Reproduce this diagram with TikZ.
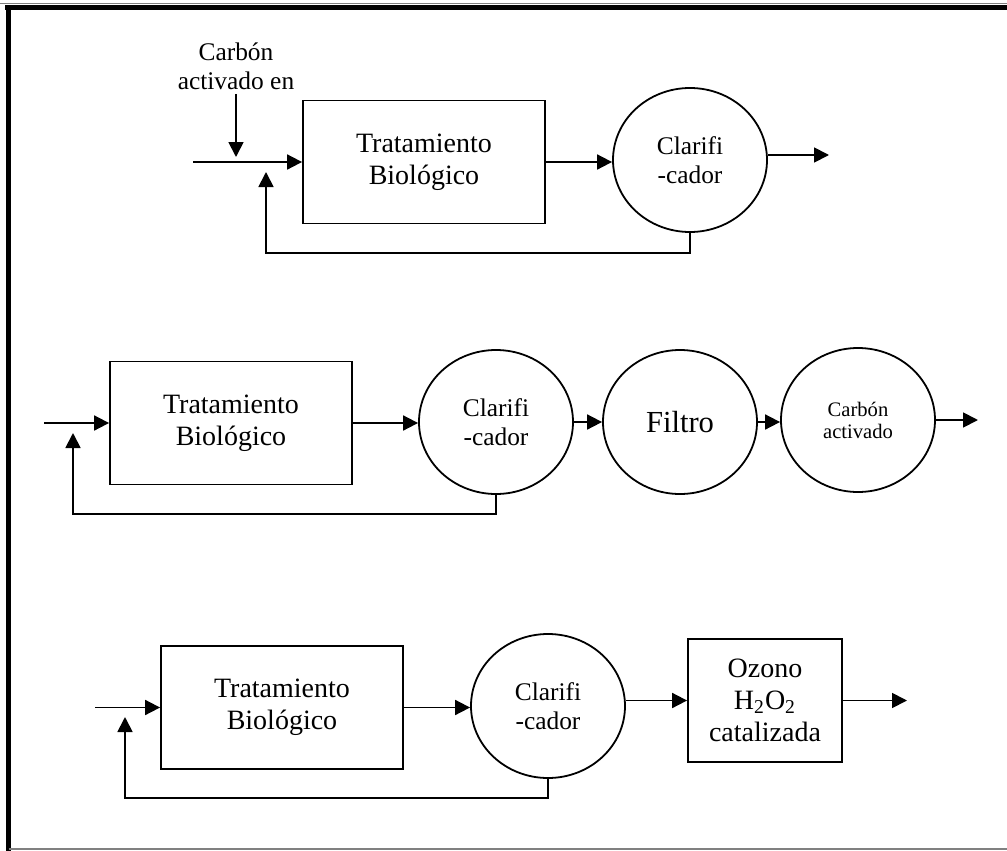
\documentclass[tikz,border=0pt]{standalone}
\usepackage{fontspec}
\setmainfont{Liberation Serif}
\usetikzlibrary{shapes.geometric, arrows.meta}

\begin{document}
\begin{tikzpicture}[x=0.5pt, y=-0.5pt,
    proc/.style={draw, rectangle, line width=0.9pt, minimum width=121pt, minimum height=61.5pt, inner sep=0pt, align=center, font=\fontsize{14}{16}\selectfont},
    tank/.style={draw, ellipse, line width=0.9pt, minimum width=77pt, minimum height=72pt, inner sep=0pt, align=center, font=\fontsize{12.7}{14.5}\selectfont},
    flow/.style={->, >={Triangle[length=7.5pt, width=7.5pt]}, line width=0.9pt}]
    \useasboundingbox (0,0) rectangle (1007,851);
    % frame
    \draw[gray, line width=0.5pt] (0,3.5) -- (1007,3.5);
    \draw[line width=2.5pt] (5,7.5) -- (1007,7.5);
    \draw[line width=2.5pt] (8.5,5) -- (8.5,851);
    \draw[gray, line width=0.6pt] (8.5,849) -- (1007,849);

    % first line
    \node[align=center, inner sep=2pt, font=\fontsize{12.7}{14.5}\selectfont](carbonin) at (236,66) {Carbón\\activado en};
    \node[proc](box1) at (424,162) {Tratamiento\\Biológico};
    \node[tank](clar1) at (690,160) {Clarifi\\-cador};
    \coordinate (drop1) at (236,157);
    \coordinate (in1) at (193,162);
    \coordinate (ret1) at (266,253);
    \coordinate (mix1) at (266,172);
    \coordinate (out1) at (829,155);
    \draw[flow] (carbonin.south) -- (drop1);
    \draw[flow] (in1) -- (box1.west);
    \draw[flow] (box1.east) -- (box1.east -| clar1.west);
    \draw[flow] (clar1.south) |- (ret1) -- (mix1);
    \draw[flow] (clar1.east |- out1) -- (out1);

    % second line
    \node[proc](box2) at (231,423) {Tratamiento\\Biológico};
    \node[tank](clar2) at (496,422) {Clarifi\\-cador};
    \node[tank, font=\fontsize{15.3}{17}\selectfont](filtro) at (680,422) {Filtro};
    \node[tank, font=\fontsize{10.3}{11}\selectfont](carbon2) at (858,420) {Carbón\\activado};
    \coordinate (in2) at (44,423);
    \coordinate (ret2) at (73,514);
    \coordinate (mix2) at (73,433);
    \coordinate (out2) at (978,420);
    \draw[flow] (in2) -- (box2.west);
    \draw[flow] (box2.east) -- (box2.east -| clar2.west);
    \draw[flow] (clar2.east) -- (filtro.west);
    \draw[flow] (filtro.east) -- (filtro.east -| carbon2.west);
    \draw[flow] (carbon2.east) -- (out2);
    \draw[flow] (clar2.south) |- (ret2) -- (mix2);

    % third line
    \node[proc](box3) at (282,707.5) {Tratamiento\\Biológico};
    \node[tank](clar3) at (548,706) {Clarifi\\-cador};
    \node[proc, minimum width=77pt](ozono) at (765,700.5) {Ozono\\H\textsubscript{2}O\textsubscript{2}\\catalizada};
    \coordinate (in3) at (95,707.5);
    \coordinate (ret3) at (125,798);
    \coordinate (mix3) at (125,717);
    \coordinate (out3) at (907,700.5);
    \draw[flow] (in3) -- (box3.west);
    \draw[flow] (box3.east) -- (box3.east -| clar3.west);
    \draw[flow] (clar3.east |- ozono.west) -- (ozono.west);
    \draw[flow] (ozono.east) -- (out3);
    \draw[flow] (clar3.south) |- (ret3) -- (mix3);
\end{tikzpicture}
\end{document}
